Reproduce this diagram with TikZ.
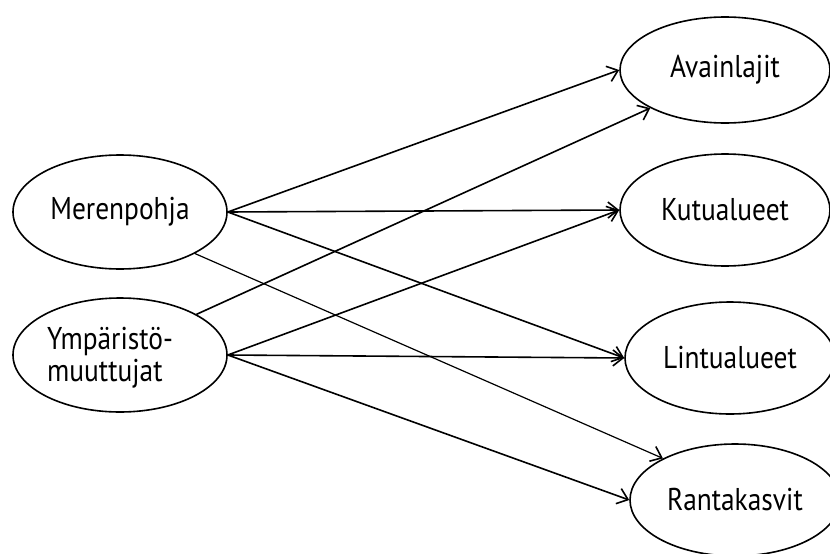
\documentclass[tikz,border=0pt]{standalone}
\usepackage{fontspec}
\setmainfont[FakeStretch=0.87]{PT Sans}
\usetikzlibrary{shapes.geometric,arrows.meta}
\begin{document}
\begin{tikzpicture}[x=1pt,y=-1pt,
  lbl/.style={font=\fontsize{31.5}{32}\selectfont},
  oval/.style={ellipse,draw,line width=1.6pt,inner sep=0pt,lbl},
  leftoval/.style={oval,minimum width=214pt,minimum height=114pt},
  rightoval/.style={oval,minimum width=210pt,minimum height=112pt},
  link/.style={line width=1.6pt,-{Straight Barb[length=10pt,width=16pt,line width=1.6pt]}},
  thinlink/.style={link,line width=1.2pt}]
\useasboundingbox (0,0) rectangle (830,554);
\node[leftoval] (mp) at (120,212) {Merenpohja};
\node[leftoval] (ym) at (120,355) {};
\node[lbl,align=left,anchor=west,inner sep=0pt] (ymt) at (47,358) {Ympäristö-\\muuttujat};
\node[rightoval,minimum height=106pt] (av) at (725,70) {Avainlajit};
\node[rightoval] (ku) at (725,210) {Kutualueet};
\node[rightoval] (li) at (730,358) {Lintualueet};
\node[rightoval] (ra) at (735,500) {Rantakasvit};
\draw[link] (mp.east) -- (av.west);
\draw[link] (mp.east) -- (ku.west);
\draw[link] (mp.east) -- (li.west);
\draw[thinlink] (mp.-29.5) -- (ra.150);
\draw[link] (ym.28.6) -- (av.207);
\draw[link] (ym.east) -- (ku.west);
\draw[link] (ym.east) -- (li.west);
\draw[link] (ym.east) -- (ra.west);
\end{tikzpicture}
\end{document}
